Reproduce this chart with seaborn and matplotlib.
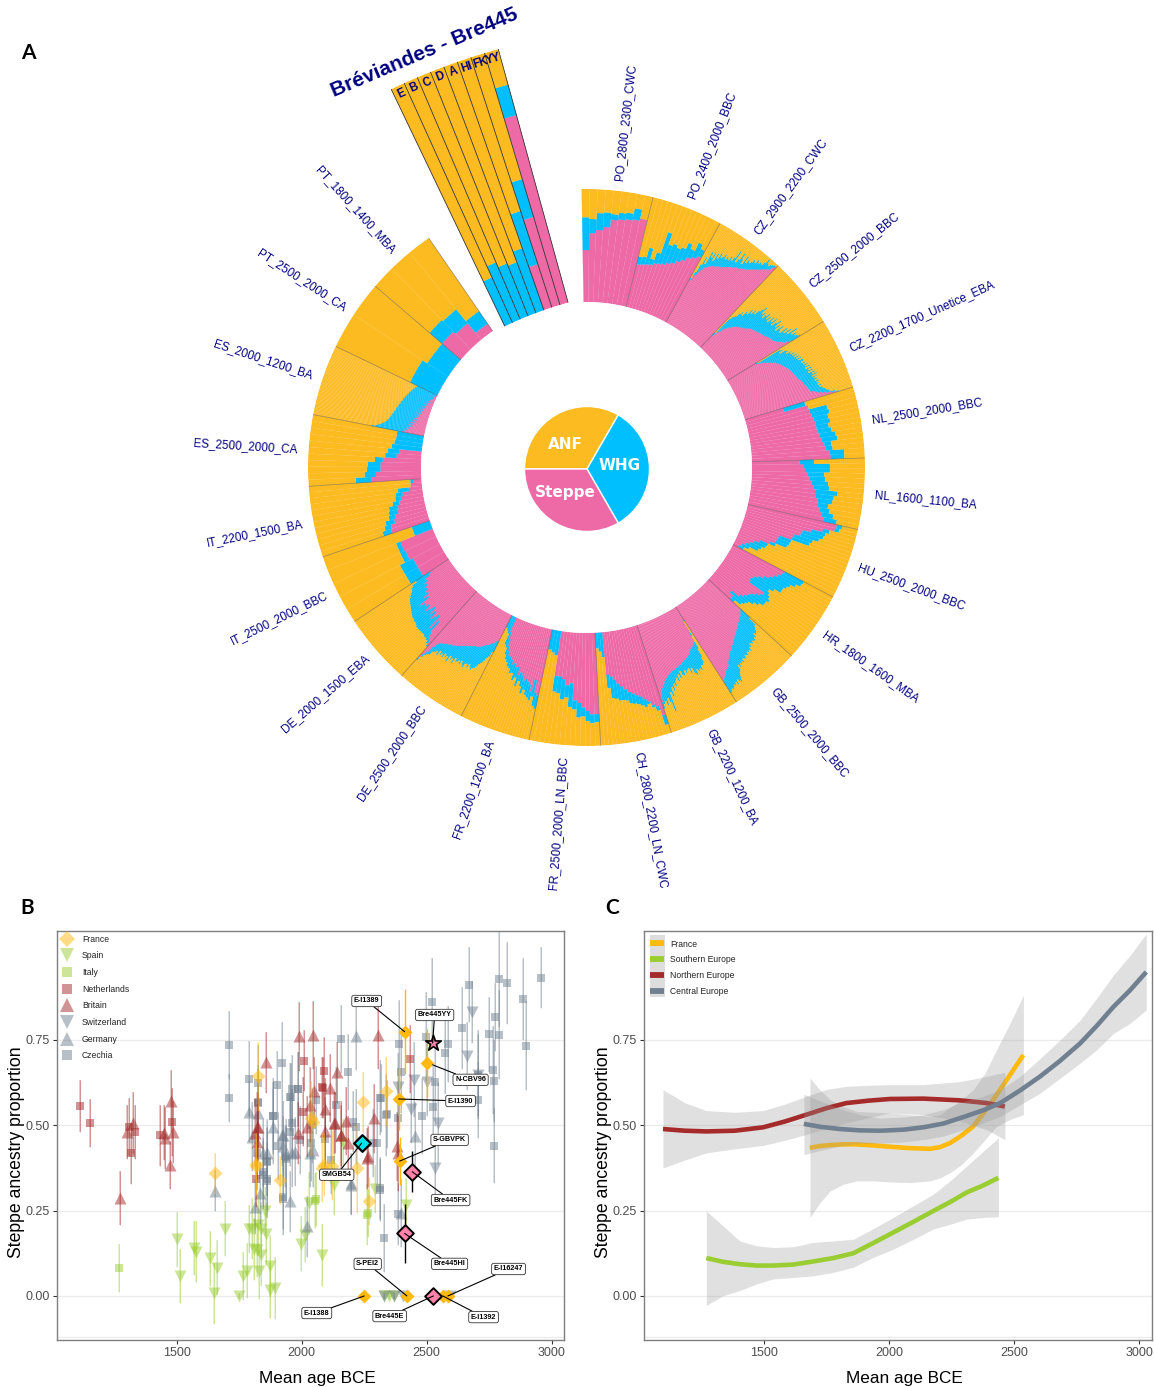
#%% IMPORTS
import matplotlib
matplotlib.use("Agg")
import numpy as np
import pandas as pd
import matplotlib.pyplot as plt
from matplotlib.lines import Line2D
from matplotlib.patches import Rectangle
import seaborn as sns

sns.set_theme(style="white")
plt.rcParams['font.family'] = ['Liberation Sans', 'DejaVu Sans']

W, H = 1154, 1387
ANF_COL = '#FDBB22'
WHG_COL = '#00BFFF'
STEPPE_COL = '#EE6AA7'
NAVY = '#000080'

#%% PANEL A DATA: steppe = inner pink edge, top = outer blue edge, per individual
group_names = ['PO_2800_2300_CWC', 'PO_2400_2000_BBC', 'CZ_2900_2200_CWC', 'CZ_2500_2000_BBC',
               'CZ_2200_1700_Unetice_EBA', 'NL_2500_2000_BBC', 'NL_1600_1100_BA', 'HU_2500_2000_BBC',
               'HR_1800_1600_MBA', 'GB_2500_2000_BBC', 'GB_2200_1200_BA', 'CH_2800_2200_LN_CWC',
               'FR_2500_2000_LN_BBC', 'FR_2200_1200_BA', 'DE_2500_2000_BBC', 'DE_2000_1500_EBA',
               'IT_2500_2000_BBC', 'IT_2200_1500_BA', 'ES_2500_2000_CA', 'ES_2000_1200_BA',
               'PT_2500_2000_CA', 'PT_1800_1400_MBA']

po2800_steppe = [.46,.61,.64,.67,.74,.75,.76,.77,.79]
po2800_top = [.75,.735,.79,.80,.79,.81,.82,.87,.79]
po2400_steppe = [.39,.40,.41,.42,.44,.45,.46,.48,.50,.53,.56,.60,.62,.65]
po2400_top = [.46,.47,.56,.47,.54,.74,.64,.66,.64,.66,.72,.68,.76,.72]
cz2900_steppe = [.43,.47,.50,.53,.56,.59,.60,.61,.62,.63,.64,.645,.65,.66,.665,.67,.68,.685,.69,.70,.71,.72,.72,
                 .73,.74,.75,.75,.76,.77,.775,.78,.79,.80,.81,.82,.83,.84,.85,.86,.87,.89,.90,.91,.93,.95,.97]
cz2900_top = [.45,.52,.60,.68,.62,.75,.70,.75,.68,.76,.72,.78,.74,.76,.79,.75,.78,.76,.80,.77,.81,.89,.78,
              .82,.89,.84,.80,.89,.83,.87,.85,.87,.90,.88,.92,.90,.92,.91,.94,.985,.95,.94,.96,.97,.98,.98]
cz2500_steppe = [.15,.19,.22,.25,.28,.30,.31,.33,.34,.35,.36,.37,.38,.38,.39,.40,.41,.42,.43,.44,.44,.45,.455,
                 .46,.465,.47,.475,.48,.485,.49,.49,.50,.51,.515,.52,.525,.53,.53,.54,.55,.56,.58,.59,.60,.63,.66]
cz2500_top = [.18,.37,.40,.42,.46,.49,.46,.52,.50,.56,.53,.58,.55,.60,.63,.67,.60,.63,.58,.62,.65,.60,.64,
              .59,.66,.62,.67,.60,.65,.69,.62,.66,.60,.68,.64,.62,.70,.65,.72,.67,.77,.70,.74,.72,.74,.76]
cz2200_steppe = [.29,.31,.33,.35,.37,.39,.41,.42,.44,.45,.46,.47,.48,.485,.49,.50,.505,.51,.52,.525,.53,.535,.54,.54,.545,.55,
                 .55,.555,.56,.56,.565,.57,.58,.585,.59,.595,.60,.60,.61,.61,.615,.62,.62,.625,.63,.65,.67,.69,.72,.75,.80,.85]
cz2200_top = [.31,.54,.56,.52,.58,.60,.57,.62,.60,.64,.61,.65,.62,.66,.63,.67,.64,.68,.68,.65,.69,.66,.70,.67,.71,.66,
              .72,.68,.72,.67,.73,.70,.74,.69,.73,.70,.73,.70,.74,.71,.73,.71,.74,.72,.74,.75,.76,.77,.79,.80,.84,.87]
nl2500_steppe = [.35,.56,.57,.58,.59,.60,.60,.61,.62,.63,.65,.66,.69,.70]
nl2500_top = [.55,.57,.73,.74,.72,.73,.71,.73,.76,.77,.71,.72,.82,.82]
nl1600_steppe = [.42,.46,.47,.49,.51,.53,.55,.57,.58,.60,.61,.63,.66,.68]
nl1600_top = [.55,.69,.69,.64,.65,.68,.69,.77,.74,.73,.70,.72,.76,.80]
hu2500_steppe = [.81,.80,.70,.60,.53,.52,.47,.46,.345,.34,.33,.29,.20,.16,.13,.10,.07,.05]
hu2500_top = [.86,.84,.76,.73,.72,.69,.64,.62,.46,.455,.44,.34,.28,.27,.24,.22,.14,.10]
hr1800_steppe = [.52,.50,.48,.45,.42,.38,.34,.31,.29,.30,.46,.44,.40,.37,.35,.33,.30,.22,.26,.26]
hr1800_top = [.71,.70,.66,.62,.60,.58,.58,.52,.48,.50,.52,.54,.52,.52,.48,.44,.40,.38,.36,.30]
gb2500_steppe = [.39,.40,.41,.42,.43,.43,.44,.44,.45,.456,.46,.47,.47,.48,.49,.49,.50,.50,.51,.52,.52,.53,.54,.54,.55,
                 .56,.57,.57,.58,.59,.60,.60,.61,.62,.63,.64,.65,.66,.67,.69,.70,.71,.71,.72,.73,.74,.75,.76,.77,.79]
gb2500_top = [.50,.58,.58,.60,.62,.63,.64,.62,.66,.65,.67,.67,.66,.68,.67,.66,.69,.68,.72,.70,.71,.70,.73,.72,.71,
              .74,.73,.72,.75,.735,.75,.74,.77,.74,.79,.80,.82,.85,.877,.86,.84,.88,.85,.87,.86,.88,.89,.88,.90,.91]
gb2200_steppe = [.13,.25,.35,.36,.37,.38,.38,.39,.40,.41,.43,.43,.44,.44,.45,.45,.46,.46,.47,.47,
                 .47,.48,.48,.48,.49,.49,.49,.50,.50,.51,.52,.53,.54,.55,.57,.58,.60,.62,.66,.72]
gb2200_top = [.15,.30,.42,.50,.55,.57,.56,.60,.58,.60,.57,.62,.60,.54,.58,.53,.54,.56,.53,.57,
              .56,.52,.58,.54,.60,.56,.58,.63,.60,.66,.62,.70,.66,.83,.74,.70,.76,.72,.74,.78]
ch2800_steppe = [.83,.74,.72,.68,.65,.62,.60,.58,.56,.53,.50,.47,.43,.40,.38,0,0,0]
ch2800_top = [.92,.78,.74,.70,.72,.70,.68,.67,.66,.63,.62,.62,.60,.59,.50,.22,.17,.14]
fr2500_steppe = [.72,.72,.69,.66,.62,.60,.45,.47,.42,.40,.40,0,0,0]
fr2500_top = [.79,.80,.78,.74,.75,.68,.66,.58,.60,.55,.54,.22,.20,.18]
fr2200_steppe = [.60,.58,.47,.58,.52,.50,.48,.50,.46,.44,.47,.40,.41,.38,.40,.36,.34,.34,.30,.26,.20,.14,0,0,0]
fr2200_top = [.72,.70,.62,.66,.64,.62,.58,.62,.56,.52,.57,.50,.53,.47,.48,.44,.43,.40,.38,.34,.28,.26,.16,.14,.12]
de2500_steppe = [.26,.27,.29,.30,.31,.32,.33,.34,.35,.36,.37,.38,.39,.39,.40,.40,.41,.42,.42,.43,.44,.44,
                 .45,.46,.46,.47,.48,.49,.49,.50,.51,.51,.52,.53,.53,.54,.55,.55,.56,.59,.62,.69,.72,.78]
de2500_top = [.37,.42,.44,.47,.50,.52,.55,.57,.58,.60,.58,.56,.60,.57,.58,.62,.60,.57,.61,.58,.60,.61,
              .58,.64,.60,.62,.59,.66,.61,.63,.60,.65,.62,.64,.61,.66,.63,.65,.66,.70,.71,.73,.76,.81]
de2000_steppe = [.64,.60,.58,.54,.42,.52,.38,.42,.46,.38,.43,.36,.40,.44,.38,.42,.40,.445,.34,.38,.32,.34,.30,.32,.28,.30,.26,.275,.22,.20]
de2000_top = [.66,.64,.62,.61,.61,.60,.60,.60,.60,.60,.60,.59,.58,.58,.57,.57,.56,.55,.54,.53,.52,.51,.50,.49,.47,.45,.43,.42,.40,.35]
it2500_steppe = [.27,.27,.30,.31,0]
it2500_top = [.40,.40,.35,.35,.17]
it2200_steppe = [.35,.34,.30,.28,.25,.24,.22,.20,.18,.12,.10,.07]
it2200_top = [.43,.40,.38,.34,.33,.32,.28,.25,.24,.22,.10,.10]
es2500_steppe = [.44,.40,.36,.36,.34,.22,.20,0,0,0,0]
es2500_top = [.58,.50,.48,.47,.41,.32,.30,.27,.25,.24,.24]
es2000_steppe = [.20,.17,.19,.16,.18,.14,.17,.15,.12,.16,.14,.11,.15,.13,.10,.14,.12,.09,.13,.11,.10,.12,.08,.11,.09,.12,.07,.10,
                 .08,.09,.06,.10,.07,.08,.05,.09,.06,.07,.04,.08,.05,.06,.03,.06,.04,.05,.03,.04,.02,.03,.02,.03,.01,.02,.01]
es2000_top = [.47,.44,.42,.41,.39,.38,.37,.36,.35,.35,.34,.34,.33,.33,.33,.32,.32,.32,.31,.31,.31,.30,.30,.30,.30,.29,.29,.29,
              .29,.28,.28,.28,.28,.27,.27,.27,.27,.26,.26,.26,.25,.25,.25,.24,.24,.24,.23,.23,.23,.22,.22,.21,.21,.20,.20]
pt2500_steppe = [0, 0]
pt2500_top = [.27, .22]
pt1800_steppe = [.22, .19, .08]
pt1800_top = [.365, .35, .215]

steppe_by_group = [po2800_steppe, po2400_steppe, cz2900_steppe, cz2500_steppe, cz2200_steppe, nl2500_steppe,
                   nl1600_steppe, hu2500_steppe, hr1800_steppe, gb2500_steppe, gb2200_steppe, ch2800_steppe,
                   fr2500_steppe, fr2200_steppe, de2500_steppe, de2000_steppe, it2500_steppe, it2200_steppe,
                   es2500_steppe, es2000_steppe, pt2500_steppe, pt1800_steppe]
top_by_group = [po2800_top, po2400_top, cz2900_top, cz2500_top, cz2200_top, nl2500_top,
                nl1600_top, hu2500_top, hr1800_top, gb2500_top, gb2200_top, ch2800_top,
                fr2500_top, fr2200_top, de2500_top, de2000_top, it2500_top, it2200_top,
                es2500_top, es2000_top, pt2500_top, pt1800_top]

bre_names = ['E', 'B', 'C', 'D', 'A', 'HI', 'FK', 'YY']
bre_steppe = [0, 0, 0, 0, 0, .174, .35, .74]
bre_top = [.19, .236, .216, .207, .25, .386, .50, .86]

pie_labels = ['ANF', 'WHG', 'Steppe']
pie_values = [1, 1, 1]

#%% PANEL B DATA
france_age = [1825,2245,2336,2039,2045,1651,1912,1817,2081,2121,2223,2270,1815,2090]
france_steppe = [.643,.567,.599,.521,.511,.36,.34,.382,.376,.382,.374,.277,.387,.384]
france_err = [.10,.09,.10,.11,.10,.06,.07,.08,.10,.10,.13,.07,.09,.09]

spain_age = [1500,1514,1568,1577,1631,1662,1649,1693,1750,1763,1780,1790,1801,1824,1807,1820,1838,1828,1838,1855,1851,
             1872,1872,1894,1997,2011,2030,2081,2128,2293,2419,2331,2351,2371,2165]
spain_steppe = [.166,.059,.141,.13,.11,.083,.008,.197,0,.059,.074,.197,.197,.207,.137,.135,.12,.072,.195,.182,.25,
                .088,.016,.023,.153,.18,.272,.12,.326,.314,.265,0,0,0,.448]
spain_err = [.08,.08,.08,.09,.08,.08,.09,.08,.01,.07,.08,.07,.09,.09,.09,.08,.09,.08,.08,.09,.07,
             .09,.08,.09,.08,.08,.09,.09,.09,.07,.08,.01,.01,.01,.07]

italy_age = [1268,2054,2263,2059,2265]
italy_steppe = [.081,.279,.238,.284,.242]
italy_err = [.07,.08,.09,.08,.07]

nether_age = [1112,1152,1308,1332,1318,1432,1480,1815,2009,2089,2081,2005,2432,2084]
nether_steppe = [.557,.507,.495,.48,.418,.47,.51,.342,.689,.658,.611,.54,.694,.61]
nether_err = [.076,.07,.085,.08,.09,.09,.10,.08,.09,.10,.09,.10,.10,.09]

britain_age = [1274,1300,1324,1448,1452,1476,1484,1473,1857,1988,2045,2305,2143,2112,2048,2033,2095,2289,2176,2132,
               1825,1812,1985,2019,2095,2156,1819,1819,2159,2185,2381,2265,2129,2263,2385]
britain_steppe = [.287,.48,.507,.478,.463,.571,.48,.384,.684,.76,.765,.765,.655,.61,.60,.56,.548,.52,.513,.508,
                  .494,.477,.477,.496,.482,.47,.496,.452,.472,.448,.438,.409,.506,.403,.418]
britain_err = [.08,.08,.09,.08,.09,.09,.09,.07,.09,.10,.10,.10,.09,.10,.10,.11,.09,.10,.10,.09,
               .10,.10,.09,.09,.10,.09,.10,.11,.10,.08,.10,.09,.09,.09,.11]

swiss_age = [2680,2660,2448,2384,2436,2544,2533,2331,2371,2405,2594,2500,2704]
swiss_steppe = [.832,.703,.633,.612,.548,.507,.376,0,0,0,0,.627,.648]
swiss_err = [.09,.10,.11,.10,.10,.12,.09,.01,.01,.01,.01,.10,.12]

germany_age = [2219,1788,1825,1885,1919,1799,1925,1925,1859,1972,2045,1832,1812,2199,2452,1651,1953,2020,2398,2196,1844,1960,2032]
germany_steppe = [.762,.54,.535,.496,.472,.467,.472,.438,.418,.423,.428,.301,.262,.33,.469,.308,.277,.204,.243,.326,.419,.42,.42]
germany_err = [.10,.09,.10,.11,.09,.10,.10,.09,.10,.10,.11,.09,.08,.09,.10,.06,.09,.09,.10,.09,.10,.10,.10]

czech_age = [2520,2668,2788,2820,2956,2884,2640,2772,2748,2788,2896,2496,2584,2572,2388,2156,2184,2396,2764,2768,2704,2704,
             2532,2524,2480,2384,2340,2768,2316,2300,1708,1708,1788,1824,1900,1920,1956,1984,1824,1884,1952,1936,1860,1820,
             1961,1985,1953,1825,1885,2136,1961,2339,2219,2059,2205,2312,1859,1845,1859,1932,1992,2039,1925,2119,2285,2312,
             1844,1861,1926,1935,2315,2385,2331,2040,2092,1905]
czech_steppe = [.861,.911,.929,.917,.932,.87,.785,.817,.767,.765,.733,.759,.738,.712,.738,.753,.656,.656,.662,.63,.574,.648,
                .627,.554,.527,.52,.533,.44,.58,.448,.735,.58,.636,.624,.618,.683,.583,.606,.565,.527,.48,.407,.393,.42,
                .606,.606,.582,.567,.528,.56,.506,.53,.496,.575,.511,.58,.394,.362,.342,.409,.457,.448,.289,.399,.448,.316,
                .355,.337,.285,.401,.311,.24,.169,.50,.46,.44]
czech_err = [.13,.11,.14,.12,.09,.12,.12,.10,.11,.13,.13,.13,.11,.12,.13,.10,.11,.12,.13,.12,.11,.13,
             .13,.12,.11,.11,.10,.11,.10,.12,.10,.07,.11,.11,.10,.12,.10,.11,.10,.11,.10,.11,.10,.11,
             .10,.11,.10,.11,.10,.11,.10,.12,.11,.10,.09,.11,.10,.10,.09,.09,.10,.11,.11,.10,.10,.09,
             .10,.11,.09,.10,.09,.09,.10,.11,.10,.10]

country_names = ['France', 'Spain', 'Italy', 'Netherlands', 'Britain', 'Switzerland', 'Germany', 'Czechia']
country_ages = [france_age, spain_age, italy_age, nether_age, britain_age, swiss_age, germany_age, czech_age]
country_steppe = [france_steppe, spain_steppe, italy_steppe, nether_steppe, britain_steppe, swiss_steppe, germany_steppe, czech_steppe]
country_err = [france_err, spain_err, italy_err, nether_err, britain_err, swiss_err, germany_err, czech_err]
country_col = ['#FFB90F', '#9ACD32', '#9ACD32', '#A52A2A', '#A52A2A', '#708090', '#708090', '#708090']
country_mark = ['D', 'v', 's', 's', '^', 'v', '^', 's']
country_size = [50, 75, 38, 38, 75, 75, 75, 38]
draw_order = ['Spain', 'Italy', 'Czechia', 'Germany', 'Switzerland', 'Netherlands', 'Britain', 'France']

# labelled samples: (name, age, steppe) of the mark, then where the tag sits
tag_names = ['E-I1389', 'Bre445YY', 'N-CBV96', 'E-I1390', 'S-GBVPK', 'Bre445FK', 'Bre445HI',
             'E-I16247', 'E-I1392', 'S-PEI2', 'Bre445E', 'E-I1388', 'SMGB54']
tag_age = [2412, 2524, 2524, 2388, 2392, 2442, 2412, 2585, 2565, 2421, 2527, 2250, 2240]
tag_steppe = [.774, .741, .677, .577, .395, .364, .183, 0, 0, 0, 0, 0, .448]
tag_box_age = [2260, 2532, 2676, 2636, 2592, 2596, 2592, 2828, 2728, 2264, 2352, 2060, 2140]
tag_box_steppe = [.864, .823, .633, .571, .457, .281, .094, .079, -.062, .094, -.059, -.05, .355]

solid_france_age = [2412, 2500, 2388, 2392, 2250, 2421, 2565, 2585]
solid_france_steppe = [.774, .683, .577, .395, 0, 0, 0, 0]
solid_france_err = [.125, .10, .09, .07, 0, 0, 0, 0]
bre_mark_age = [2412, 2442, 2527]
bre_mark_steppe = [.183, .364, 0]
bre_mark_err = [.085, .06, 0]
star_age = [2524]
star_steppe = [.741]
cyan_age = [2240]
cyan_steppe = [.448]

#%% PANEL C DATA
north_age = [1096,1183,1269,1383,1496,1583,1669,1749,1829,1916,2003,2136,2283,2389,2462]
north_fit = [.489,.484,.482,.484,.494,.511,.531,.550,.565,.572,.577,.578,.573,.565,.555]
north_hi = [.604,.566,.543,.538,.543,.562,.585,.605,.614,.617,.619,.619,.628,.643,.655]
north_lo = [.375,.398,.419,.431,.441,.456,.473,.492,.507,.522,.536,.531,.512,.487,.458]
france_fit_age = [1683,1723,1763,1816,1869,1936,2003,2083,2163,2203,2243,2289,2336,2383,2429,2483,2536]
france_fit = [.434,.439,.442,.444,.444,.441,.437,.433,.431,.436,.448,.47,.497,.541,.589,.648,.706]
france_hi = [.638,.604,.575,.555,.541,.538,.536,.531,.526,.531,.551,.575,.604,.653,.721,.799,.881]
france_lo = [.23,.273,.307,.327,.337,.337,.334,.332,.337,.346,.361,.385,.419,.458,.497,.517,.531]
south_age = [1269,1336,1403,1469,1536,1616,1696,1776,1856,1936,2016,2096,2176,2243,2309,2376,2436]
south_fit = [.111,.100,.093,.089,.089,.092,.101,.111,.125,.155,.186,.217,.249,.275,.303,.324,.346]
south_hi = [.249,.205,.161,.147,.142,.144,.157,.161,.166,.197,.23,.264,.298,.337,.38,.424,.463]
south_lo = [-.028,.001,.016,.035,.05,.054,.059,.069,.084,.113,.137,.166,.196,.21,.225,.23,.232]
central_age = [1659,1729,1803,1883,1963,2056,2136,2216,2296,2376,2443,2523,2603,2683,2763,2829,2896,2963,3027]
central_fit = [.504,.495,.489,.485,.484,.487,.494,.505,.524,.544,.565,.602,.643,.689,.74,.791,.847,.896,.949]
central_hi = [.591,.57,.548,.531,.521,.524,.531,.546,.57,.585,.604,.643,.696,.75,.808,.872,.94,.998,1.061]
central_lo = [.414,.427,.439,.446,.448,.451,.458,.468,.487,.507,.526,.56,.594,.638,.682,.721,.769,.799,.838]

fit_names = ['France', 'Southern Europe', 'Northern Europe', 'Central Europe']
fit_cols = ['#FFB90F', '#9ACD32', '#A52A2A', '#708090']
fit_series = [(france_fit_age, france_fit, france_hi, france_lo),
              (south_age, south_fit, south_hi, south_lo),
              (north_age, north_fit, north_hi, north_lo),
              (central_age, central_fit, central_hi, central_lo)]

#%% HELPERS
fig = plt.figure(figsize=(W / 100, H / 100), dpi=100)

def px_rect(left, top, right, bottom):
    return [left / W, 1 - bottom / H, (right - left) / W, (bottom - top) / H]

def polar_ring(cx, cy, r_in, r_out):
    ax = fig.add_axes(px_rect(cx - r_out, cy - r_out, cx + r_out, cy + r_out), projection='polar')
    ax.set_theta_zero_location('N')
    ax.set_theta_direction(-1)
    ax.set_ylim(0, 1)
    ax.set_rorigin(-r_in / (r_out - r_in))
    ax.set_axis_off()
    return ax

def stack_bars(ax, theta, width, steppe, top, lw=0.12):
    steppe = np.asarray(steppe, float)
    top = np.asarray(top, float)
    # thin edge in the bar's own colour keeps only a faint seam between individuals
    ax.bar(theta, steppe, width=width, bottom=0, color=STEPPE_COL, edgecolor=STEPPE_COL, linewidth=lw, align='edge')
    ax.bar(theta, top - steppe, width=width, bottom=steppe, color=WHG_COL, edgecolor=WHG_COL, linewidth=lw, align='edge')
    ax.bar(theta, 1 - top, width=width, bottom=top, color=ANF_COL, edgecolor=ANF_COL, linewidth=lw, align='edge')

#%% PANEL A: ring
ring = polar_ring(586.5, 467.5, 165.5, 278.5)
start_deg = -1.0
step_deg = 14.84
for i, name in enumerate(group_names):
    n = len(steppe_by_group[i])
    left = start_deg + i * step_deg
    wid = step_deg / n
    theta = np.deg2rad(left + wid * np.arange(n))
    stack_bars(ring, theta, np.deg2rad(wid), steppe_by_group[i], top_by_group[i])
    if i > 0:
        ring.plot(np.deg2rad([left, left]), [0, 1], color='#555555', lw=0.5, alpha=0.6)
    mid = left + step_deg / 2
    if mid < 180:
        rot, ha = 90 - mid, 'left'
    else:
        rot, ha = 270 - mid, 'right'
    ring.text(np.deg2rad(mid), 1.095, name, rotation=rot, ha=ha, va='center',
              rotation_mode='anchor', color=NAVY, fontsize=8.5)
ring.plot(np.deg2rad([start_deg + 22 * step_deg] * 2), [0, 1], color='#555555', lw=0.5, alpha=0.6)

# Breviandes wedge has its own centre, further down and to the right
wedge = polar_ring(669, 669, 380, 643)
bre_left = -25.6
bre_wid = 10.2 / len(bre_names)
bre_theta = np.deg2rad(bre_left + bre_wid * np.arange(len(bre_names)))
stack_bars(wedge, bre_theta, np.deg2rad(bre_wid), bre_steppe, bre_top)
for k in range(len(bre_names) + 1):
    wedge.plot(np.deg2rad([bre_left + k * bre_wid] * 2), [0, 1], color='#333333', lw=0.6)
for k, name in enumerate(bre_names):
    mid = bre_left + (k + 0.5) * bre_wid
    wedge.text(np.deg2rad(mid), 0.968, name, rotation=-mid, ha='center', va='center',
               color=NAVY, fontsize=8.3, fontweight='bold', rotation_mode='anchor')
fig.text(424 / W, 1 - 53 / H, 'Bréviandes - Bre445', color=NAVY, fontsize=15, fontweight='bold',
         rotation=23, ha='center', va='center', rotation_mode='anchor')

# pie key in the middle
pie_ax = fig.add_axes(px_rect(524.5, 406.5, 649.5, 531.5))
pie_ax.pie(pie_values, colors=[ANF_COL, WHG_COL, STEPPE_COL], startangle=180, counterclock=False, radius=1)
pie_ax.set_xlim(-1, 1)
pie_ax.set_ylim(-1, 1)
for name, x, y in zip(pie_labels, [565, 620, 565], [445, 466, 492]):
    fig.text(x / W, 1 - y / H, name, color='white', fontsize=11, fontweight='bold', ha='center', va='center',
             family='DejaVu Sans')

for name, x, y in zip(['A', 'B', 'C'], [28, 27, 612], [53, 908, 908]):
    fig.text(x / W, 1 - y / H, name, fontsize=15, fontweight='bold', ha='center', va='center',
             family='Lato', color='black')

#%% PANEL B + C shared axis look
def style_axis(ax):
    ax.set_xlim(1020, 3050)
    ax.set_ylim(-0.129, 1.069)
    ax.set_xticks([1500, 2000, 2500, 3000])
    ax.set_yticks([0, .25, .5, .75])
    ax.set_yticklabels(['0.00', '0.25', '0.50', '0.75'])
    ax.tick_params(axis='both', length=3, width=0.8, color='#333333', labelcolor='#4D4D4D', labelsize=9, pad=2,
                   bottom=True, left=True)
    ax.yaxis.grid(True, color='#EBEBEB', lw=0.9)
    ax.xaxis.grid(False)
    ax.axhline(-0.12, color='#EBEBEB', lw=0.9, zorder=0)
    ax.set_axisbelow(True)
    for sp in ax.spines.values():
        sp.set_color('#7F7F7F')
        sp.set_linewidth(1.0)

def axis_titles(ax):
    ax.set_xlabel('Mean age BCE', fontsize=12.4, labelpad=8.5, color='black', x=0.513)
    ax.set_ylabel('Steppe ancestry proportion', fontsize=12.7, labelpad=0.5, color='black', y=0.46)

#%% PANEL B: scatter
ax_b = fig.add_axes(px_rect(57, 931, 564, 1340))
style_axis(ax_b)
frames = []
for c, a, s, e in zip(country_names, country_ages, country_steppe, country_err):
    frames.append(pd.DataFrame({'country': c, 'age': a, 'steppe': s, 'err': e}))
points = pd.concat(frames, ignore_index=True)

for z, c in enumerate(draw_order):
    idx = country_names.index(c)
    sub = points[points['country'] == c]
    col = country_col[idx]
    ax_b.vlines(sub['age'], sub['steppe'] - sub['err'], sub['steppe'] + sub['err'],
                color=col, lw=1.3, alpha=0.28, zorder=2 + z)
    ax_b.vlines(sub['age'], sub['steppe'] - sub['err'], sub['steppe'] + sub['err'],
                color=col, lw=0.4, alpha=0.6, zorder=2 + z)
    sns.scatterplot(data=sub, x='age', y='steppe', marker=country_mark[idx], color=col, s=country_size[idx],
                    alpha=0.5, linewidth=0, ax=ax_b, zorder=3 + z, legend=False)
axis_titles(ax_b)

ax_b.vlines(solid_france_age, np.subtract(solid_france_steppe, solid_france_err),
            np.add(solid_france_steppe, solid_france_err), color='#FFB90F', lw=1, zorder=14)
sns.scatterplot(x=solid_france_age, y=solid_france_steppe, marker='D', color='#FFB90F', s=50, linewidth=0,
                ax=ax_b, zorder=15, legend=False)
ax_b.vlines(bre_mark_age, np.subtract(bre_mark_steppe, bre_mark_err), np.add(bre_mark_steppe, bre_mark_err),
            color='black', lw=1, zorder=15)
sns.scatterplot(x=bre_mark_age, y=bre_mark_steppe, marker='D', color='#FF82AB', s=72, linewidth=1.4,
                edgecolor='black', ax=ax_b, zorder=16, legend=False)
sns.scatterplot(x=cyan_age, y=cyan_steppe, marker='D', color='#00E5EE', s=72, linewidth=1.6,
                edgecolor='black', ax=ax_b, zorder=16, legend=False)
sns.scatterplot(x=star_age, y=star_steppe, marker='*', color='#FF82AB', s=140, linewidth=1.2,
                edgecolor='black', ax=ax_b, zorder=16, legend=False)

for name, a, s, ba, bs in zip(tag_names, tag_age, tag_steppe, tag_box_age, tag_box_steppe):
    ax_b.annotate(name, xy=(a, s), xytext=(ba, bs), ha='center', va='center', fontsize=5.2, fontweight='bold',
                  color='black', zorder=20,
                  bbox=dict(boxstyle='round,pad=0.3', fc='white', ec='#333333', lw=0.6),
                  arrowprops=dict(arrowstyle='-', color='black', lw=0.8, shrinkA=0, shrinkB=0))

handles_b = [Line2D([], [], linestyle='none', marker=m, color=c, alpha=0.5, markersize=ms, markeredgewidth=0)
             for m, c, ms in zip(country_mark, country_col, [8.5, 10, 6.5, 6.5, 10, 10, 10, 6.5])]
ax_b.legend(handles_b, country_names, loc='upper left', bbox_to_anchor=(0.0, 0.995), frameon=False, fontsize=6.2,
            labelspacing=0.89, handletextpad=0.7, borderaxespad=0.1, borderpad=0.1, handlelength=2.0,
            labelcolor='#222222')

#%% PANEL C: smooth fits
ax_c = fig.add_axes(px_rect(644, 931, 1152, 1340))
style_axis(ax_c)
for z, (col, (age, fit, hi, lo)) in enumerate(zip(fit_cols, fit_series)):
    sns.lineplot(x=age, y=fit, color=col, lw=3.3, ax=ax_c, zorder=3 + 2 * z, errorbar=None, sort=False,
                 solid_capstyle='butt')
    ax_c.fill_between(age, lo, hi, color='#999999', alpha=0.3, linewidth=0, zorder=2 + 2 * z)
axis_titles(ax_c)

key_bg = Rectangle((6 / 508, 1 - 66 / 409), 15 / 508, 62 / 409, transform=ax_c.transAxes,
                   color='#DDDDDD', zorder=20, linewidth=0)
ax_c.add_patch(key_bg)
handles_c = [Line2D([], [], color=c, lw=4.2, solid_capstyle='butt') for c in fit_cols]
leg = ax_c.legend(handles_c, fit_names, loc='upper left', bbox_to_anchor=(0, 0.995), frameon=False, fontsize=6.2,
                  labelspacing=0.78, handletextpad=0.7, borderaxespad=0.1, borderpad=0.65, handlelength=1.6,
                  labelcolor='#222222')
leg.set_zorder(21)

plt.savefig('out.png', dpi=100)
